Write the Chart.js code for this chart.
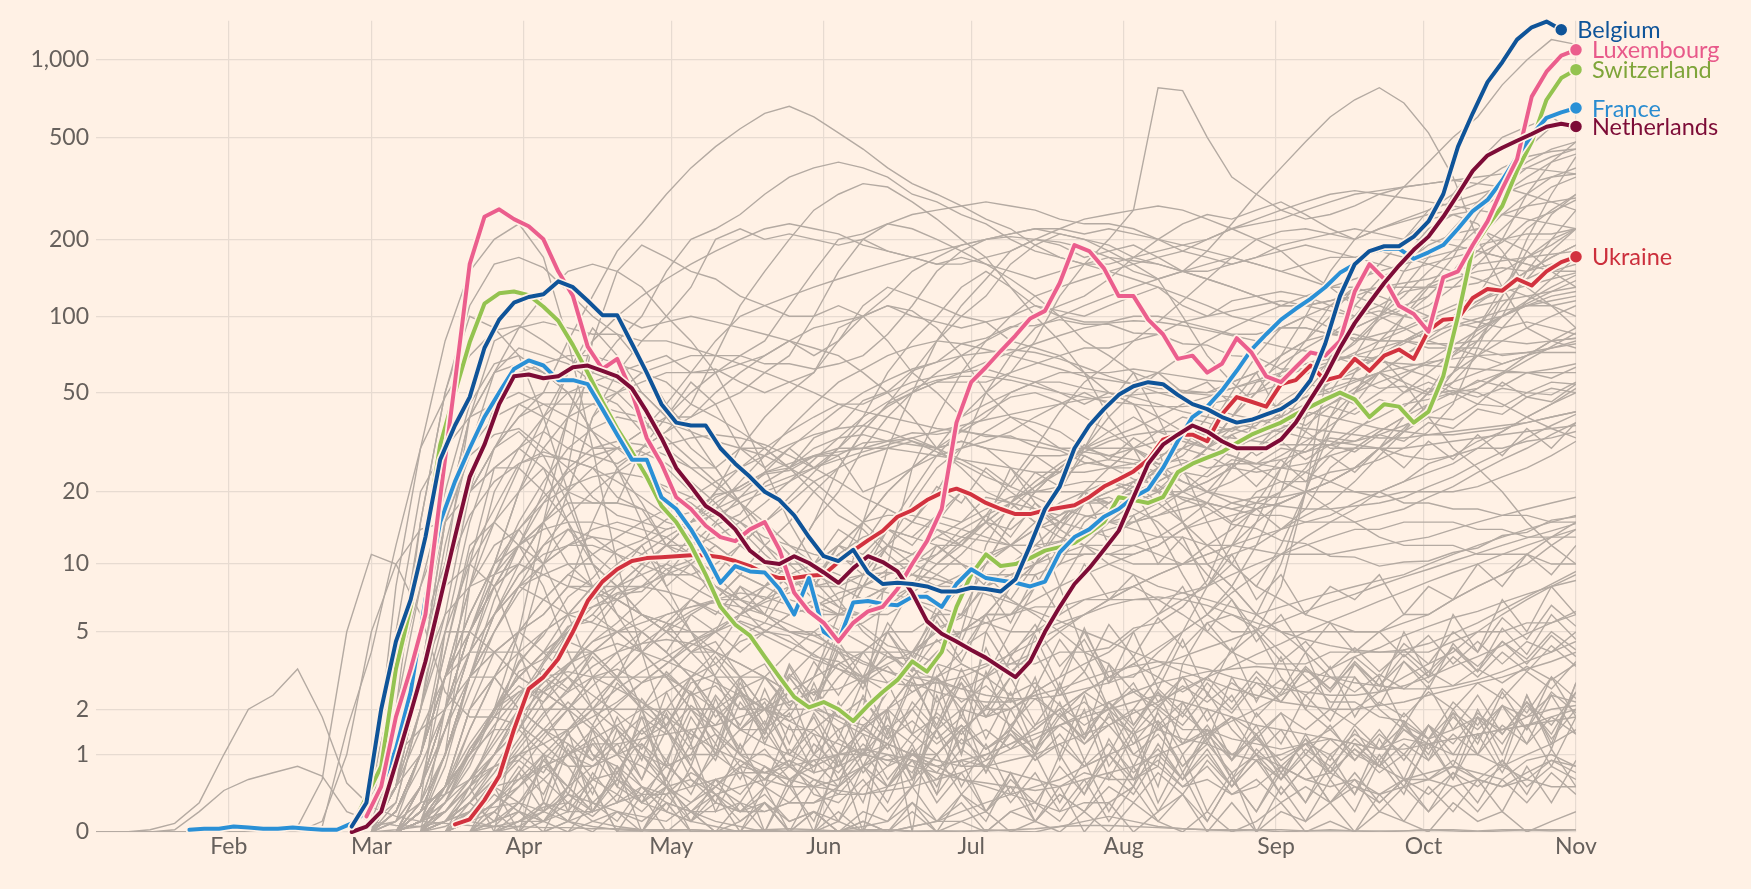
<!DOCTYPE html>
<html>
<head>
<meta charset="utf-8">
<script src="https://cdn.jsdelivr.net/npm/chart.js@4.4.0/dist/chart.umd.min.js"></script>
<style>
  html, body { margin: 0; padding: 0; background: #FFF1E5; }
  #wrap { width: 1751px; height: 889px; position: relative; }
</style>
</head>
<body>
<div id="wrap"><canvas id="chart"></canvas></div>
<script>
// x is day of year 2020 (0 = 1 Jan), y is on a log(1 + v) axis
const X_MIN = 4;
const X_MAX = 305;
const Y_MAX = 1420;
const Y_TICKS = [0, 1, 2, 5, 10, 20, 50, 100, 200, 500, 1000];
const MONTH_DAYS = [31, 60, 91, 121, 152, 182, 213, 244, 274, 305];
const MONTH_LABELS = ['Feb', 'Mar', 'Apr', 'May', 'Jun', 'Jul', 'Aug', 'Sep', 'Oct', 'Nov'];

const BG = '#FFF1E5';
const GRID = '#E7DBD1';
const GRAY = '#B4AAA2';
const TICK_TEXT = '#66605C';

// highlighted countries, one value every 3 days from *_START
const HL_STEP = 3;
const BELGIUM_START = 56;
const BELGIUM = [0.05,0.3,2,4.5,7,13,27,37,48,75, 97,113,119,122,137,130,115,101,101,78,
  60,45,38,37,37,30,26,23,20,18.5, 16,13,10.8,10.3,11.5,9.2,8.2,8.3,8.2,8.0,
  7.6,7.6,7.9,7.8,7.6,8.6,12,17,21,30, 37,43,49,53,55,54,49,45,43,40,
  38,39,41,43,47,56,78,120,160,180, 188,188,205,235,300,460,620,820,980,1200,
  1340,1410,1310];
const LUXEMBOURG_START = 59;
const LUXEMBOURG = [0.15,0.5,1.8,3.3,6,19,55,160,245,262, 240,225,200,150,120,76,62,68,50,33,
  26,19,17,14.5,13,12.5,14,15,11.5,7.5, 6.2,5.5,4.5,5.5,6.2,6.5,7.8,10,12.5,17,
  38,55,63,73,84,98,105,135,190,180, 154,120,120,97,85,68,70,60,65,82,
  72,58,55,63,72,70,80,125,160,140, 110,102,87,142,150,190,235,315,410,720,
  900,1040,1095];
const SWITZERLAND_START = 56;
const SWITZERLAND = [0.05,0.37,0.8,3.3,6.5,13,31,50,79,112, 123,125,121,109,96,77,60,46,36,29,
  23,17.5,15,12,9,6.5,5.4,4.8,3.8,3.0, 2.35,2.05,2.2,2.0,1.7,2.1,2.5,2.9,3.6,3.2,
  4.0,6.5,9,11,9.8,10,10.6,11.4,11.8,12.3, 13.5,15,19,18.5,18,19,24,26,27.5,29,
  31.5,34,36,38,41,44,47,50,47,40, 45,44,38,42,58,100,185,225,270,370,
  480,700,850,917];
const FRANCE_START = 23;
const FRANCE = [0.02,0.03,0.03,0.05,0.04,0.03,0.03,0.04,0.03,0.02, 0.02,0.08,0.2,0.5,1.1,2.5,7,15,22,30,
  40,50,62,67,64,56,56,54,43,34, 27,27,19,17,14,11,8.3,9.8,9.3,9.2,
  7.8,6.0,8.7,5,4.5,6.8,6.9,6.7,6.6,7.2, 7.2,6.5,8.2,9.5,8.7,8.5,8.3,8,8.4,11.2,
  13,14,15.8,17,19,20.5,25,32,40,44, 51,61,74,85,97,107,117,130,148,160,
  178,184,184,168,178,190,220,258,285,340, 420,510,595,625,650];
const NETHERLANDS_START = 56;
const NETHERLANDS = [0,0.05,0.2,0.85,1.9,3.6,7,13,23,31, 45,58,59,57,58,63,64,61,58,52,
  42,33,25,21,17.5,16,14,11.4,10.2,10, 10.8,10.1,9.2,8.3,9.6,10.8,10.2,9.3,7.5,5.6,
  4.9,4.5,4.1,3.75,3.35,3.0,3.6,5,6.5,8.2, 9.6,11.5,13.8,19,26,31,34,37,35,32,
  30,30,30,32.5,38,47,58,75,94,113, 135,158,182,205,245,300,370,425,455,485,
  515,550,565,551];
const UKRAINE_START = 77;
const UKRAINE = [0.07,0.12,0.33,0.65,1.5,2.6,3.0,3.7,5,6.9, 8.4,9.5,10.3,10.6,10.7,10.8,10.9,10.9,10.7,10.3,
  9.8,9.1,8.7,8.7,8.9,9.0,10.2,11.4,12.6,13.8, 15.8,16.8,18.5,19.8,20.6,19.5,18,17,16.2,16.2,
  16.8,17.2,17.6,19,21,22.5,24.2,27,32.5,34, 34,32,41,48,46,44,54,56,64,56,
  58,68,61,70,74,68,88,97,98,118, 128,126,140,132,150,163,171];

// background countries whose outbreaks began before March: every 5 days from 1 Jan
const EARLY_START = 0;
const EARLY_LINES = [
  [0,0,0,0.02,0.08,0.3,1.0,2.0,2.4,3.3,1.8,0.55,
   0.25,0.15,0.1,0.08,0.06,0.05,0.05,0.04,0.04,0.03, 0.03,0.02,0.02,0.02,0.01,0.01,0.01,0.01,0.01,0.01,
   0.02,0.02,0.01,0.01,0.01,0.01,0.02,0.03,0.05,0.06, 0.06,0.05,0.04,0.03,0.02,0.02,0.02,0.02,0.01,0.01,
   0.01,0.01,0.01,0.02,0.02,0.01,0.02,0.02,0.02,0.02],
  [0,0,0,0,0.02,0.2,0.45,0.6,0.7,0.8,0.65,0.2,
   0.1,0.06,0.05,0.2,0.5,0.8,0.9,0.6,0.3,0.1, 0.05,0.02,0.01,0.02,0.01,0.01,0.02,0.03,0.02,0.01,
   0.05,0.1,0.5,2,5,12,18,15,8,4, 2,1,0.8,0.5,0.6,0.4,0.5,0.8,0.6,0.7,
   0.5,0.4,0.6,0.7,0.8,0.6,0.5,0.7,0.9,0.8],
  [0,0,0,0,0,0,0,0,0.01,0.05,0.6,5,
   11,10,6,2.5,1.8,1.8,1.6,1.2,0.8,0.3, 0.2,0.15,0.1,0.3,0.5,0.8,0.7,0.9,0.7,0.8,
   1.0,0.9,1.0,0.8,0.9,0.8,0.7,0.6,0.5,0.7, 0.6,0.6,0.8,3.5,5.5,6,5.2,4,3,2.2,
   2.2,1.8,1.7,1.3,1.5,1.8,1.5,1.8,2,2.1],
  [0,0,0,0,0,0,0,0,0,0,0.1,1,
   5,10,14,15,28,34,36,30,25,19, 16,15,14,15,19,21,24,25,30,33,
   34,32,31,30,32,30,29,28,28,29, 28,27,26,27,25,26,26,27,29,31,
   36,40,45,47,50,52,60,70,80,82],
  [0,0,0,0,0,0,0,0,0,0,0.05,1.5,
   4,12,30,48,70,88,92,80,68,60, 55,50,40,30,25,18,14,11,8.5,6.5,
   5.3,4.3,4.0,3.5,3.2,3.5,3.5,3.5,4,4, 4.2,5.2,5.5,6.5,8.5,15,20,22,22,24,
   25,27,30,35,45,75,120,200,300,420]
];

// all other countries: every 5 days from 1 Mar to 1 Nov
const GRAY_START = 60;
const GRAY_STEP = 5;
const GRAY_LINES = [
  [0.5,3,15,50,110,160,170,155,125,100, 85,65,45,35,25,18,12,9,7,6, 6,7,8,10,12,16,22,30,42,55, 65,80,95,115,140,170,200,215,220,210, 200,220,235,250,260,280,300,350,400,430],
  [0.3,8,30,80,150,200,230,170,80,30, 10,4,1.5,0.6,0.3,0.2,0.4,0.1,0.2,0.1, 0.5,0.8,1,1.5,2,3,5,8,12,18, 22,20,14,9,6,5,5,8,20,70, 110,140,160,190,210,220,200,180,150,130],
  [0.2,1,3,12,30,60,90,120,150,160, 150,130,100,80,60,40,25,15,10,7, 5,4,3,3,3.5,3,4,5,8,12, 15,18,20,24,30,40,55,65,75,85, 100,130,170,220,250,230,180,130,110,90],
  [0.5,3,8,15,20,30,40,50,80,120, 180,230,300,380,460,540,620,660,600,520, 450,380,330,300,270,240,220,190,170,160, 150,140,130,120,110,100,95,90,90,85, 82,80,80,78,78,80,80,78,80,82],
  [0,0,0,0.5,2,3,4,5,6,8, 8,9,10,9,8,7,8,9,10,12, 15,20,25,30,40,50,60,80,120,160, 200,260,780,760,500,350,300,260,240,250, 270,300,320,330,340,350,360,380,370,360],
  [0.5,2,8,20,45,65,70,60,50,35, 25,15,8,5,3,2,2,2.5,3,6, 15,30,50,80,110,140,180,200,190,170, 180,190,170,150,180,230,300,380,480,600, 700,780,680,520,350,200,130,90,80,75],
  [0,0.2,1,3,8,15,25,40,60,80, 100,120,140,160,180,200,220,230,220,210, 190,180,170,160,160,170,180,200,220,240, 250,260,270,260,240,220,200,180,150,130, 110,100,90,80,75,70,65,70,75,80],
  [0,0.5,3,10,20,25,30,35,30,28, 26,30,35,45,70,110,150,200,260,300, 330,320,280,240,200,170,130,110,100,95, 95,100,100,95,90,85,85,90,90,85, 85,80,80,75,75,75,70,72,75,78],
  [0,1,5,15,30,40,45,40,35,30, 30,35,40,40,45,50,60,70,100,150, 200,230,250,260,270,280,270,260,240,230, 230,220,200,180,170,160,170,180,190,180, 170,160,150,160,170,180,170,160,150,160],
  [0,0,0.2,1,3,6,10,15,20,25, 30,35,45,60,80,100,110,120,130,140, 150,160,170,180,190,200,210,220,220,210, 220,210,200,190,180,170,160,150,140,130, 130,120,110,100,95,90,100,110,110,115],
  [0.1,0.3,2,10,40,80,90,95,90,85, 85,80,80,75,70,70,65,65,62,65, 70,85,110,150,180,200,205,200,195,185, 170,165,160,150,140,130,120,110,110,115, 125,130,130,130,130,135,150,170,190,220],
  [0,0,0.2,0.5,1,2,3,4,5,6, 8,10,12,15,20,30,40,50,60,80, 100,120,150,170,190,200,210,220,210,200, 190,170,160,150,140,130,120,110,110,115, 120,130,135,140,150,160,165,170,175,180],
  [0,0,0.1,0.5,1,2,2,2,2,3, 3,3,3,4,5,6,8,10,15,20, 30,40,50,60,70,80,100,120,130,140, 150,160,170,180,200,220,230,240,260,280, 300,310,320,330,340,330,320,300,280,260],
  [0.1,0.5,3,10,20,25,25,20,15,10, 8,6,5,5,5,4,5,6,7,6, 6,8,10,15,20,15,12,10,12,14, 15,18,22,25,30,40,50,70,100,150, 200,250,320,400,500,600,800,1000,1200,1150],
  [0.5,5,20,30,40,45,50,45,40,35, 30,25,20,18,15,12,10,8,6,6, 6,6,7,6,6,8,10,12,15,18, 20,22,25,28,35,50,70,90,100,90, 80,85,90,100,110,120,130,150,170,190],
  [0.3,2,15,50,100,90,70,40,20,10, 8,6,5,4,4,3,3,4,5,6, 7,8,10,12,12,11,12,14,15,18, 18,20,25,30,40,60,80,90,100,110, 120,110,100,110,130,160,200,300,400,480],
  [0,0.5,3,15,40,60,75,70,65,55, 50,40,30,25,25,30,30,25,28,30, 30,32,33,30,32,30,25,20,20,20, 18,20,22,25,30,40,50,60,65,70, 65,70,80,90,100,120,170,220,260,300],
  [0.1,0.5,2,6,20,45,60,65,70,70, 65,60,55,45,40,35,30,25,22,18, 15,12,11,10,10,9,9,10,11,12, 12,12,13,15,18,25,40,60,80,110, 130,160,200,240,250,260,300,330,350,360],
  [0.1,0.5,3,15,40,60,65,60,50,35, 25,18,12,10,8,7,6,5,5,4, 4,4,4,5,5,6,6,7,8,9, 10,11,12,14,15,16,17,18,20,22, 25,30,35,45,60,90,130,170,200,220],
  [0.1,1,5,10,20,30,45,50,50,55, 60,65,70,60,60,65,70,80,90,95, 100,110,105,90,70,50,40,35,30,28, 25,25,20,20,22,25,30,35,40,45, 50,55,60,65,70,80,100,150,200,260],
  [0,0,0.5,1.5,4,6,8,9,10,10, 8,8,9,10,12,10,10,9,8,8, 9,10,10,9,8,8,9,10,12,14, 15,15,16,17,18,17,18,20,25,35, 50,70,100,130,170,250,330,450,550,570],
  [0,0,0.2,0.5,2,4,5,6,8,8, 7,6,5,4,3,3,2,1.5,1.5,1, 1,1.2,1,1,1.5,2,2,2.5,3,5, 3,3,4,5,6,8,12,20,40,70, 90,100,110,120,150,180,220,270,320,350],
  [0,0.2,1,3,6,10,12,15,18,18, 18,17,15,14,12,10,9,9,9,10, 15,20,25,30,35,40,50,55,60,60, 60,62,60,58,56,55,60,70,80,85, 90,100,120,150,180,220,250,270,280,290],
  [0,0,0,0.1,0.5,1.5,4,10,20,40, 50,60,65,70,70,65,60,55,50,45, 42,40,38,36,35,34,33,32,30,30, 30,30,32,34,35,36,38,40,45,55, 60,70,80,90,100,110,115,120,125,130],
  [0,0,0,0,0.1,0.3,0.5,0.8,1,1.3, 1.6,2,2.5,3,3.5,4.5,5,6,6.5,7.5, 8,9,10,11,13,15,18,22,26,30, 33,36,40,45,48,52,56,60,65,68, 70,68,62,58,52,50,45,40,36,33],
  [0,0,0.1,0.5,2,3,2,1.5,1.5,2, 3,4,5,6,7,9,12,15,20,25, 35,45,60,80,100,120,160,190,210,200, 180,160,140,100,70,55,45,40,35,30, 30,30,28,27,28,30,30,32,33,35],
  [0,0.5,5,8,10,8,10,15,20,40, 60,80,100,130,200,220,200,210,200,190, 200,180,170,160,170,160,150,140,150,160, 170,150,140,150,160,170,160,150,160,170, 170,180,170,160,150,140,130,120,110,100],
  [0.5,1,1.5,3,5,8,10,15,25,80, 150,190,170,150,140,120,110,100,100,110, 100,80,60,50,40,45,50,55,50,45, 50,45,30,15,10,8,6,5,4,3, 3,2,1.5,1.2,1,1,0.8,1,1.2,1.5],
  [0,0,0.3,1,3,4,5,6,8,15, 25,30,35,40,50,60,70,80,70,80, 110,130,120,110,100,95,80,75,70,60, 50,45,40,35,30,28,25,22,20,17, 15,13,12,12,12,11,11,11,10,10],
  [0,0,0.3,5,10,15,20,25,20,18, 18,30,40,50,60,70,80,110,150,200, 210,230,220,200,180,160,140,120,100,80, 70,60,55,50,50,55,60,70,80,100, 130,160,200,260,300,330,380,420,440,450],
  [0,0.5,2,5,5,4,5,4,3,2, 1.5,1,0.8,1,1,1.5,2,3,4,5, 8,12,15,20,30,50,70,90,100,110, 120,130,140,150,150,160,170,190,200,210, 220,210,200,200,190,180,170,160,150,150],
  [0,0,0.2,0.5,1,2,3,4,5,6, 5,4,3,2,2,1,1,0.8,0.6,0.5, 0.8,1,0.7,1.5,0.8,1,1.2,1.5,2,2.5, 3,3.5,3,2.5,3,4,6,10,20,40, 60,80,100,120,150,200,250,300,350,380],
  [0,0.5,1.5,2,3,3,2,1.5,1,0.8, 1,1.2,0.8,1,2,3,2,1,1.5,2, 3,2.5,4,5,6,10,15,20,25,30, 40,50,60,70,80,90,100,110,120,130, 140,150,160,170,180,190,200,210,210,220],
  [0,0,0.1,0.2,0.5,1,2,3,5,7, 8,10,12,15,20,25,30,35,40,45, 45,50,55,58,60,62,58,55,55,52, 50,48,45,42,40,38,36,35,33,32, 31,30,30,31,32,33,34,35,36,37],
  [0,0,0.2,0.5,1,2,2.5,2.5,2,2, 2,2,2,2,2,1.5,2,2.5,3,3.5, 4,5,5,6,8,10,15,20,25,30, 35,40,35,32,30,28,26,25,24,22, 20,20,18,18,17,17,16,16,15,15],
  [0,0,0,0.05,0.2,0.5,0.6,0.8,1,1.2, 1.2,1.3,1.4,1.5,1.6,1.8,2,2.2,2.5,2.6, 3,3.5,4,4.5,5,5.5,6,6.5,6.5,7, 7,7,7,7.5,8,9,10,11,12,13, 14,14,15,15,15,14,14,13,13,13],
  [0,0,0.1,1,8,20,30,40,50,50, 45,35,25,20,17,15,12,10,10,12, 15,16,16,15,14,13,12,12,11,11, 11,11,12,14,16,18,19,19,20,20, 20,19,20,20,20,21,23,25,28,32],
  [0,0.1,1,5,15,30,40,45,45,45, 42,40,38,35,32,30,28,25,20,16, 14,11,9,8,8,8,9,9,10,11, 11,10,10,10,10,11,12,14,17,25, 30,35,40,45,50,55,60,60,62,65],
  [0,0.2,1,4,12,15,12,8,4,2, 1,0.8,0.5,0.6,0.4,0.5,0.6,0.5,0.5,0.6, 0.8,1.2,2,3,4,6,8,10,14,18, 19,17,15,12,9,7,5,3,2,1.5, 1,0.8,0.6,0.6,0.5,0.6,0.5,0.6,0.5,0.5],
  [0,0,0.5,3,8,12,14,10,6,3, 1.5,1,0.5,0.2,0.1,0.05,0,0,0,0, 0,0,0.05,0.1,0.2,0.3,0.4,0.3,0.2,0.3, 0.3,0.5,2,3,2.5,1.5,1,0.8,0.6,0.5, 0.6,0.4,0.5,0.6,0.8,0.7,0.6,0.9,1,0.8],
  [0.05,0.1,0.3,0.4,0.6,1,1.5,3,4.5,4, 3,2,1.5,0.8,0.4,0.2,0.2,0.3,0.3,0.4, 0.4,0.5,0.6,1,1.5,2,3,5,6,7, 7.5,8,7,6,5,4,3.5,3.5,3.5,4, 4,4,4,4,4.5,5,5,5.5,5.5,6],
  [0,0,0,0.1,0.4,0.8,1,1.5,1.2,0.9, 1.3,1.8,1.4,2.1,1.6,2.5,2,3.1,2.4,3.5, 2.8,4,3.2,4.6,3.5,3,2.4,2.8,2.1,1.6, 2,1.4,1.7,1.2,1.5,1,1.3,0.9,1.2,1, 1.4,1.1,1.6,1.3,1.9,1.5,2.1,1.8,2.4,2.2],
  [0,0,0,0,0.5,0,2,0.3,1.5,0.2, 0.8,0,0.5,0,0,0.3,0,0.6,0,0.2, 0,0.5,1.2,0.4,2,0.7,1.5,3,1,2.4, 0.8,1.5,0.5,2.2,1.2,3,1.8,2.5,4,2, 3.5,2.5,5,3,6,4,7,5,8,6],
  [0,0,0.5,2,5,8,12,15,10,8, 6,5,4,3,2,2.5,1.5,3,2,5, 8,12,18,25,30,35,40,38,35,30, 28,30,25,20,18,15,17,14,16,18, 22,28,35,45,60,80,110,140,180,220],
  [0,0,0,2,10,25,30,25,15,8, 4,2,0.5,0.2,0,0,0,0,0,0.5, 2,10,25,40,60,80,90,100,110,120, 140,170,200,230,250,240,260,280,250,220, 200,220,240,260,280,300,320,380,420,450],
  [0,0,0,0,0,0.1,0.2,0.1,0.3,0.15, 0.4,0.2,0.5,0.3,0.6,0.4,0.8,0.5,1,0.7, 1.2,0.8,1.4,1,1.6,1.1,1.4,0.9,1.2,0.8, 1,0.6,0.9,0.5,0.8,0.4,0.6,0.3,0.5,0.3, 0.5,0.3,0.6,0.4,0.7,0.5,0.8,0.6,0.9,0.7],
  [0,0,0.1,0.3,0.6,0.8,1,1.2,1.5,1.8, 2.2,2.8,3.5,4.5,5,6,7,8,9,11, 13,14,13,12,10,9,7,6,5,4, 3.5,2.5,2,1.5,1.5,1.3,1.2,1.1,1.2,1.3, 1.2,1.1,1.3,1.2,1.3,1.4,1.5,1.6,1.8,2],
  [0,0.2,1,3,6,10,20,35,60,90, 70,50,40,55,45,30,25,30,25,28, 20,22,25,28,30,32,35,40,45,50, 45,55,60,50,55,45,60,40,55,50, 45,60,50,55,50,45,55,48,52,50],
  [0,0,0.1,0.5,1,2,5,15,40,80, 100,90,95,100,95,90,85,80,75,70, 60,50,40,30,25,20,18,15,13,12, 11,12,11,10,11,12,15,18,20,22, 25,30,40,50,60,70,80,90,100,110],
  [0,0,0.2,1,3,4,4,3,2,1, 0.5,0.3,0.2,0.1,0.3,0.2,0.5,0.8,0.5,1, 1.5,2,2.5,3,2,1.8,2,2.5,3,3.5, 4,5,6,7,8,10,15,25,35,50, 70,100,150,200,300,400,500,550,600,520],
  [0,0,0.5,2,5,10,20,30,40,45, 50,55,60,60,62,55,50,55,60,90, 100,110,100,95,90,95,100,110,105,100, 110,120,130,110,100,115,120,125,120,110, 100,110,125,130,140,150,155,150,160,165],
  [0,0,0.2,0.5,1,2,3,4,6,8, 10,12,14,15,16,18,20,22,25,30, 40,60,80,100,130,150,130,100,80,60, 40,30,20,15,10,8,6,5,5,5, 5,5,6,6,7,8,9,10,12,14],
  [0,0.5,1,3,5,8,12,20,40,60, 80,100,150,200,220,250,300,350,380,400, 380,350,300,280,250,230,200,180,170,160, 160,170,180,190,200,220,240,260,280,300, 310,300,290,280,270,260,250,240,230,220],
  [0,0,0,0.2,0.5,1,2,3,2.5,4, 3,5,4,6,5,8,6,10,8,12, 10,14,12,16,20,15,25,18,14,20, 12,16,10,13,8,11,7,9,6,8, 7,9,6,8,7,10,8,11,9,12],
  [0,0,0,0,0,0.3,0.8,0.4,1.2,0.6, 1.8,0.9,2.5,1.2,3,1.5,2.2,1,1.8,0.8, 1.4,0.6,1.1,0.5,1.5,0.7,2,1,2.8,1.3, 3.5,1.6,2.5,1.2,2,0.9,1.6,0.7,1.3,0.6, 1.2,0.8,1.6,1,2,1.2,2.5,1.5,3,1.8],
  [0,0,0.1,0.5,1,1.5,1.5,1,0.8,0.8, 1,1.5,2,3,4,6,8,10,15,25, 35,45,50,55,55,55,60,65,70,75, 75,80,85,95,100,105,110,115,110,105, 100,105,100,95,100,95,90,95,90,85],
  [0,0.2,1,3,4,4,3,2.5,2,1, 0.8,0.5,0.3,0.2,0.2,0.3,0.2,0.3,0.3,0.5, 1,2,3,4,5,6,6,8,10,15, 18,20,25,30,28,25,24,25,26,28, 30,35,40,50,70,90,120,180,250,300],
  [0,0,0.1,0.5,1,2,3,2.5,2,1.5, 1,0.5,0.2,0.1,0.05,0,0,0,0,0.1, 0,0,0.05,0.1,0.1,0,0.2,0.3,0.1,0.5, 1,2,3,5,8,12,18,25,30,40, 50,60,70,80,90,95,100,110,120,125],
  [0,0,0.1,0.3,1,2,3,4,4,4, 5,5,4,3,2,1.5,1.5,2,2,3, 4,5,8,12,10,8,7,10,15,20, 25,30,35,40,38,35,40,45,48,50, 55,60,55,50,55,60,65,70,80,90],
  [0,0,0,0,0,0.2,0,0.3,0.1,0.5, 0,0.4,0,0.2,0,0.1,0.3,0,0.2,0, 0.1,0,0.3,0,0.1,0.2,0,0.1,0,0.2, 0,0.3,0.1,0,0.2,0,0.1,0.3,0,0.1, 0,0.2,0.1,0,0.3,0.1,0.2,0,0.1,0.2],
  [0,0.02,0.05,0.1,0.2,0.25,0.3,0.2,0.1,0.05, 0.02,0.01,0,0,0.01,0,0.02,0,0.01,0, 0.01,0.02,0,0.01,0,0.02,0.01,0,0.05,0.1, 0.15,0.1,0.05,0.03,0.02,0.01,0.02,0,0.01,0.02, 0.01,0,0.01,0.02,0.01,0,0.01,0.02,0.01,0.02],
  [0,0,0,0.1,0.3,0.6,1,0.7,1.4,0.9, 1.6,1.1,2,1.3,2.4,1.6,3,2,3.6,2.4, 4,2.8,3.4,2.2,2.8,1.8,2.3,1.5,2,1.2, 1.6,1,1.4,0.8,1.2,0.7,1,0.6,1.1,0.8, 1.3,0.9,1.5,1.1,1.8,1.3,2.1,1.5,2.5,1.9],
  [0,0,0,0,0.2,0.5,0.3,0.8,0.5,1.2, 0.7,1.5,0.9,2,1.2,2.8,1.6,3.5,2.2,4.5, 3,5.5,3.8,6.5,4.5,8,5.5,9,6,10, 7,9,6,8,5,7,4.5,6,4,5.5, 4,5,3.8,4.8,3.5,4.5,3.5,4.5,4,5],
  [0,0,0.1,0.4,1.5,3,5,7,9,8, 7,6,5.5,5,4,3.5,3,2.5,2,1.8, 1.5,1.2,1,0.8,0.6,0.5,0.4,0.5,0.6,0.8, 1,1.2,1.5,1.3,1.2,1,0.9,1,1.2,1.5, 2,2.5,3,3.5,4,5,6,7,8,9],
  [0,0,0,0,0,0,0.1,0.3,0.2,0.6, 0.4,1,0.6,1.5,0.9,2.2,1.4,3,2,4, 2.8,5,3.5,6,4.2,5,3.2,4,2.4,3.2, 2,2.8,1.6,2.2,1.3,1.8,1,1.5,0.8,1.3, 0.9,1.4,1,1.6,1.2,1.9,1.4,2.2,1.6,2.5],
  [0,0,0.2,1,3,5,8,10,12,14, 15,14,13,11,9,7,6,5,4.5,4, 3.5,3.2,3,2.8,2.6,3,3.5,4,5,6, 7,8,9,10,11,12,13,14,15,16, 18,20,22,24,26,30,35,40,45,50],
  [0,0,0,0,0.1,0.05,0.3,0.1,0.5,0.2, 0.7,0.3,0.9,0.4,1.2,0.6,1.5,0.8,1.9,1, 2.4,1.3,2.8,1.6,3.3,1.8,3,1.6,2.6,1.4, 2.2,1.2,1.9,1,1.6,0.9,1.4,0.8,1.2,0.7, 1.1,0.7,1,0.6,0.9,0.6,0.9,0.5,0.8,0.6],
  [0,0,0,0.3,0.8,2,3.5,5,6,5.5, 5,4,3,2,1.5,1,0.8,0.6,0.8,1, 1.5,2.5,4,6,8,10,12,15,18,20, 22,20,18,15,12,10,8,7,6,5.5, 5,5,5.5,6,7,8,9,11,13,15],
  [0,0,0,0,0,0.05,0.1,0.25,0.3,0.6, 0.7,1.3,1.6,2.8,3.1,4.8,5.5,8,8.5,12, 11,14,13,16,15,19,18,24,21,28, 25,30,27,33,30,36,34,40,37,44, 41,47,44,52,49,56,53,60,57,63],
  [0,0.2,1,4,11,17,26,29,27,25, 19,17,12,11,8,6.5,5,4.8,3.8,3.6, 3,3.8,3.7,5.2,5.8,8.4,8.6,11.5,12.4,15.8, 16.5,20,20.4,25,27,34,37,46,53,67, 78,97,107,133,146,174,195,235,255,285],
  [0,0.5,3,6,8,9,10,9,8,7.5, 7,6,5.5,4,4.5,3,3.5,2.2,2.5,1.8, 1.6,2,1.4,1.8,1.2,1.5,1.1,1.6,2,2.5, 3,3.5,4.2,5,6,7.5,9,11,13,15, 17,20,22,26,28,32,35,40,45,52],
  [0,0,0.3,1.5,4,9,15,22,30,36, 40,38,33,27,22,18,14,11,9,8, 7,8,9,11,14,16,18,17,15,14, 13,15,17,20,24,30,35,42,48,55, 62,70,78,88,100,115,130,140,155,170],
  [0,0,0.1,0.8,3,6,9,12,14,13, 11,9,7,5,3.5,2.5,2,1.8,3,5, 9,14,20,28,36,42,48,50,46,40, 35,30,26,22,20,18,17,18,20,22, 25,30,36,45,55,70,90,115,140,170],
  [0,0.2,0.8,2,4,6,8,7,6,6.5, 7,8,10,13,17,22,28,36,45,55, 62,70,76,80,78,74,70,66,62,58, 56,54,52,51,50,52,55,58,62,66, 70,75,80,86,92,98,105,110,115,120],
  [0,0,0,0.2,0.5,1,1.8,2.6,3.4,4.5, 5.5,7,9,12,15,19,24,30,36,43, 50,56,62,66,70,72,74,72,68,63, 58,54,50,47,44,41,39,37,36,35, 34,33,33,34,35,36,37,38,40,42],
  [0,0,0,0,0.1,0.3,0.6,1,1.5,2.2, 3,4,5.5,7,9,12,15,18,22,25, 28,30,32,30,27,24,20,17,14,12, 10,9,8,7.5,7,6.5,6,6.5,7,7.5, 8,8.5,9,10,11,12,13,14,15,16],
  [0,0,0.1,0.2,0.5,1,1.5,2.5,3,4, 5,6,5,7,6,8,7,9,8,11, 9,12,10,14,12,16,13,18,15,20, 17,22,18,24,20,26,21,27,22,28, 24,30,25,32,27,34,28,36,30,38],
  [0,0,0.5,2,5,8,4,2,1,0.5, 0,0,0.3,0,0,0,0.5,0,0,1, 0,2,0,3,1,5,8,14,20,30, 45,60,40,25,15,10,8,12,20,35, 50,70,55,40,30,25,20,15,12,10],
  [0,0,0,0.1,0.3,0.8,1.5,2.5,3.5,4.5, 5,5.5,6,6.5,7,7,6.5,6,6.5,7, 8,9.5,11,13,15,17,19,20,21,22, 22,21,20,19,18,17,16,16,15,15, 15,16,17,19,21,24,27,30,34,38],
  [0,0.3,2,8,20,30,35,28,18,10, 6,4,3,2.5,2,1.5,1.2,1,0.8,1, 1.5,2,3,4,5,6,8,10,12,14, 15,16,18,20,22,25,30,38,50,65, 80,100,130,170,220,280,340,400,450,480],
  [0,0,0.2,1,3,7,12,18,25,30, 32,31,28,25,21,18,15,12,10,9, 8,7.5,7,6.5,6,5.5,5,5,5.5,6, 7,8,9,10,12,14,17,20,24,29, 35,42,50,60,72,85,100,115,130,145],
  [0,0,0,0,0.2,0.5,1,1.5,2.2,1.6, 2.8,2,3.2,2.4,3.8,2.6,3,2.1,2.6,1.8, 2.3,1.5,2,1.3,1.8,1.1,1.5,0.9,1.4,0.8, 1.2,0.7,1.1,0.6,1,0.5,0.9,0.6,1,0.7, 1.1,0.8,1.2,0.9,1.4,1,1.6,1.2,1.8,1.4],
  [0,0,0,0,0,0,0.05,0.2,0.5,0.8, 1.2,0.6,1.5,0.9,2,1.1,1.7,0.8,1.4,0.6, 1.1,0.5,0.9,0.3,0.7,0.2,0.5,0.1,0.4,0.2, 0.5,0.3,0.7,0.4,0.9,0.5,1.1,0.7,1.3,0.9, 1.6,1.1,1.9,1.3,2.2,1.6,2.6,1.9,3,2.3],
  [0,0,0,0.2,0.6,1.2,2,2.8,3.5,4, 4.4,4,3.6,3.2,2.8,2.4,2,1.7,1.4,1.2, 1,0.9,0.8,0.7,0.6,0.55,0.5,0.45,0.5,0.6, 0.7,0.8,1,1.2,1.4,1.7,2,2.4,2.8,3.3, 3.8,4.2,4.8,5.3,5.8,6.2,6.8,7.4,8,8.5],
  [0,0,0,0,0,0.5,0,1,0.2,1.5, 0.5,2,0.8,2.5,1,3,1.2,2.6,1,2.2, 0.8,1.8,0.6,1.5,0.5,1.2,0.4,1,0.3,0.9, 0.2,0.8,0.2,0.7,0.1,0.6,0.2,0.7,0.3,0.8, 0.4,1,0.5,1.2,0.6,1.4,0.7,1.6,0.8,1.8],
  [0,0,0,0,0.1,0.3,0.7,1.3,2,3, 4,5,6,6.5,6.8,6.5,6,5.4,4.8,4.2, 3.6,3.2,2.8,2.5,2.3,2.2,2.2,2.4,2.6,2.9, 3.2,3.4,3.6,3.5,3.3,3,2.8,2.6,2.5,2.4, 2.4,2.5,2.7,3,3.4,3.8,4.3,4.9,5.5,6.2],
  [0,0,0,0,0,0,0,0.1,0,0.3, 0.1,0.5,0.2,0.8,0.3,1.2,0.5,1.6,0.7,2.2, 1,2.8,1.4,3.5,1.8,4.2,2.2,4.8,2.6,5.2, 2.8,5,2.6,4.6,2.4,4.2,2.2,3.8,2,3.4, 1.8,3,1.6,2.7,1.5,2.4,1.4,2.2,1.3,2],
  [0,0,0.1,0.4,1,1.8,2.5,3,3.2,3, 2.6,2.2,1.8,1.4,1.1,0.9,0.7,0.6,0.5,0.45, 0.4,0.45,0.5,0.6,0.7,0.9,1.1,1.3,1.6,1.9, 2.2,2.5,2.8,3,3.2,3.3,3.4,3.3,3.2,3, 2.8,2.7,2.6,2.6,2.7,2.9,3.2,3.6,4,4.5],
  [0,0,0,0,0,0,0.1,0.2,0.4,0.3, 0.6,0.4,0.8,0.5,1,0.7,0.5,0.3,0.6,0.4, 0.8,0.5,1,0.7,1.3,0.9,1.6,1.1,1.9,1.3, 2.2,1.5,2.5,1.8,2.8,2,3,2.2,3.3,2.5, 3.6,2.7,3.9,3,4.2,3.2,4.5,3.5,4.8,3.8],
  [0,0,0,0,0.1,0.2,0.5,0.9,1.4,2, 2.6,3.2,3.8,4.5,5.2,6,6.8,7.5,8,8.5, 9,9.2,9,8.6,8,7.4,6.8,6.2,5.6,5, 4.5,4,3.6,3.2,2.9,2.6,2.4,2.2,2.1,2, 2,2.1,2.2,2.4,2.6,2.8,3,3.3,3.6,4],
  [0,0,0,0,0,0,0,0,0.1,0.2, 0.3,0.5,0.4,0.7,0.5,0.9,0.6,1.1,0.8,1.3, 1,1.6,1.2,1.9,1.4,2.1,1.6,2.3,1.8,2.5, 2,2.6,2.1,2.7,2.2,2.8,2.3,2.9,2.4,3, 2.5,3.1,2.6,3.2,2.7,3.3,2.8,3.4,2.9,3.5],
  [0,0,0,0.1,0.3,0.6,1.1,1.8,2.6,3.4, 4,4.4,4.6,4.4,4,3.5,3,2.5,2.1,1.7, 1.4,1.2,1,0.9,0.8,0.8,0.9,1,1.2,1.4, 1.6,1.9,2.2,2.6,3,3.4,3.9,4.4,5,5.6, 6.2,6.9,7.6,8.4,9.2,10,11,12,13,14],
  [0,0,0,0,0,0.1,0.2,0.1,0.4,0.2, 0.6,0.3,0.5,0.2,0.4,0.1,0.3,0.1,0.2,0, 0.2,0.1,0.3,0.1,0.4,0.2,0.6,0.3,0.8,0.4, 1,0.5,1.2,0.6,1.1,0.5,0.9,0.4,0.8,0.3, 0.7,0.3,0.6,0.2,0.5,0.2,0.6,0.3,0.7,0.4],
  [0,0,0,0.1,0.4,1,2,3.5,5,6.5, 7.5,8,7.6,7,6.2,5.5,4.8,4.2,3.7,3.3, 3,2.8,2.7,2.8,3,3.4,3.9,4.5,5.2,6, 6.6,7,7.2,7,6.6,6,5.5,5,4.6,4.3, 4.1,4,4.1,4.4,4.9,5.5,6.3,7.2,8.2,9.3],
  [0,0,0,0,0,0,0,0,0,0.1, 0.2,0.1,0.3,0.2,0.5,0.3,0.8,0.5,1.2,0.8, 1.6,1.1,2.2,1.5,3,2,3.8,2.6,4.6,3.2, 5.4,3.8,5.8,4.2,5.5,4,5,3.6,4.5,3.3, 4.2,3.2,4.1,3.2,4.2,3.4,4.5,3.7,5,4.1],
  [0,0.1,0.5,2,5,9,12,14,15,15, 14,13,12,12,13,15,18,22,27,33, 40,46,52,56,58,58,56,53,50,48, 46,45,44,44,45,47,50,54,59,65, 72,80,88,97,106,115,124,132,140,148],
  [0,0,0.2,1,3,6,9,11,12,12, 11,10,9,9,10,12,15,19,24,30, 37,44,50,55,60,66,72,78,84,90, 94,96,95,92,88,84,80,76,73,70, 68,66,65,64,63,62,61,60,60,60],
  [0,0.5,3,9,16,22,26,28,27,25, 22,19,16,13,11,9,8,7,6.5,6, 6,6.5,7,8,9,10.5,12,14,16,18, 20,22,24,26,28,30,33,36,40,45, 52,60,70,82,96,112,130,150,170,190],
  [0,0,0,0.3,1.1,1.9,3.6,4.8,7.2,8.7, 11.5,12.6,15.4,16.5,19.5,20.3,23.6,24.4,27.8,28.2, 31.5,32.2,34.6,34.1,35.5,33.4,33.6,30.5,29.4,26.3, 25.4,22.5,21.3,18.6,17.2,14.7,14.1,12.6,12.2,10.8, 10.7,9.8,10.2,10.3,11.2,11.7,13.2,13.6,15.3,15.8],
  [0,0,0.1,0.4,1.1,1.8,3.2,3.7,5.3,5.6, 7.4,7.6,9.5,10.4,14.6,16.2,21.8,25,33,36.5, 46.5,50.5,61,66,78,82,91,92,97,93, 93,86,85,78,77,70,69,62,62,56, 57,52,53,49,51,48,52,50,55,54],
  [0,0,0,0,0,0.2,0.5,1,0.4,1.3, 0.6,1.8,0.5,1.2,0.2,0.8,0,0.5,0.1,0.9, 0.3,1.5,0.6,2.4,1,3.2,1.5,2.6,0.9,2, 0.6,1.4,0.3,1,0.2,0.7,0,0.5,0.1,0.6, 0.2,0.9,0.4,1.3,0.6,1.8,0.8,2.4,1.1,2.8],
  [0,0,0,0.3,0.9,1.6,2.4,3.3,2.6,3.8, 2.9,2.2,1.6,2.5,1.4,1,0.6,0.9,0.4,0.3, 0.6,0.2,0.5,0.1,0.3,0,0.2,0.1,0.4,0.2, 0.7,0.4,1,0.6,1.4,0.9,1.9,1.2,2.4,1.7, 3,2.1,3.6,2.6,4.4,3.2,5.2,3.9,6,4.6],
  [0,0,0,0,0.1,0.4,0.2,0.9,0.5,1.6, 1,2.3,1.5,3,1.8,2.4,1.3,1.9,1,1.5, 0.7,1.2,0.5,1,0.4,0.8,0.3,0.7,0.2,0.6, 0.1,0.5,0.1,0.4,0,0.3,0,0.2,0.1,0.3, 0,0.4,0.1,0.5,0.2,0.6,0.2,0.8,0.3,0.9],
  [0,0,0,0,0,0,0,0.3,0.1,0.7, 0.3,1.2,0.6,1.8,1,2.6,1.4,3.4,2,4.2, 2.6,5,3.2,5.6,3.6,6,3.8,5.4,3.4,4.6, 2.8,3.8,2.2,3,1.7,2.4,1.3,1.9,1,1.6, 0.9,1.5,0.9,1.6,1,1.8,1.2,2.1,1.4,2.5],
  [0,0,0,0,0.2,0.6,1.2,1.9,2.5,3, 3.3,2.8,3.1,2.4,2.7,2,2.3,1.7,2,1.5, 1.8,1.3,1.7,1.2,1.6,1.1,1.5,1.1,1.6,1.2, 1.8,1.4,2.1,1.6,2.4,1.9,2.8,2.2,3.3,2.6, 3.8,3,4.4,3.5,5,4,5.8,4.6,6.6,5.3],
  [0,0,0,0,0,0,0,0,0.1,0, 0.2,0,0.4,0.1,0.6,0.2,0.3,0,0.5,0.1, 0.8,0.3,1.1,0.4,0.9,0.2,0.7,0.1,0.5,0, 0.3,0,0.2,0.4,0.1,0.6,0.2,0.8,0.3,1, 0.4,1.3,0.6,1.6,0.8,2,1,2.4,1.2,2.8],
  [0,0,0.1,0.5,1.2,2,2.7,2.2,3,2.4, 1.9,1.4,1.8,1.1,1.4,0.8,1.1,0.6,0.9,0.5, 0.8,0.5,0.9,0.6,1.1,0.8,1.4,1,1.8,1.3, 2.2,1.6,2.6,1.9,3,2.2,3.2,2.4,3.4,2.6, 3.5,2.7,3.6,2.8,3.8,3,4,3.2,4.3,3.4],
  [0,0,0,0,0,0.1,0.3,0.6,1,1.5, 2.1,2.8,3.5,4.3,5,5.6,5.1,4.5,3.9,3.3, 2.8,3.4,2.5,3,2.2,2.7,2,2.4,1.8,2.2, 1.6,2,1.5,1.9,1.4,1.8,1.4,1.9,1.5,2, 1.6,2.2,1.8,2.5,2,2.8,2.3,3.2,2.6,3.6],
  [0,0,0,0,0,0,0.2,0,0.5,0.2, 0.8,0.3,0.6,0.1,0.4,0,0.3,0,0.2,0, 0.1,0,0.2,0,0.4,0.1,0.7,0.2,1,0.4, 1.3,0.6,1.6,0.8,1.3,0.6,1,0.4,0.8,0.3, 0.6,0.2,0.5,0.2,0.7,0.3,0.9,0.4,1.1,0.5],
  [0,0,0,0.1,0.2,0.5,0.9,1.4,2,2.7, 3.5,4.4,5.3,6.2,7,7.5,7.2,6.6,5.9,5.1, 4.4,3.8,3.3,2.9,2.6,2.4,2.3,2.3,2.4,2.6, 2.8,3.1,3.4,3.8,4.2,4.6,5.1,5.6,6.2,6.8, 7.4,8.1,8.8,9.5,10.3,11.1,12,12.9,13.8,14.8],
  [0,0,0,0,0.3,0.1,0.7,0.2,1.1,0.4, 1.5,0.6,1.9,0.8,2.3,1,2.6,1.2,2.8,1.3, 2.9,1.4,3,1.5,2.8,1.3,2.5,1.1,2.2,0.9, 1.9,0.8,1.7,0.7,1.5,0.6,1.4,0.6,1.4,0.7, 1.5,0.8,1.7,0.9,1.9,1,2.1,1.2,2.4,1.4],
  [0,0,0,0,0,0,0.1,0.1,0.2,0.2, 0.3,0.4,0.4,0.5,0.6,0.7,0.7,0.8,0.9,1, 1.1,1,0.9,0.8,0.9,1,1.2,1.4,1.6,1.8, 2,2.2,2.4,2.2,2,1.8,1.6,1.5,1.4,1.3, 1.2,1.1,1.1,1.2,1.3,1.4,1.5,1.6,1.7,1.8],
  [0,0,0.3,1.5,4,8,12,10,14,11, 9,12,8,10,7,9,8,11,10,14, 12,17,15,21,18,25,21,28,24,31, 27,33,29,35,30,34,28,32,27,31, 29,34,32,38,36,43,41,48,46,54],
  [0,0.2,1,3,6,10,14,18,21,23, 24,23,21,19,17,15,13,12,11,10.5, 10,12,11,13,12,15,14,17,16,19, 18,21,20,24,23,27,26,30,29,33, 32,36,35,40,39,45,44,50,49,55],
  [0,0,0,0.5,1.5,3,5,7,9,11, 13,15,17,19,22,25,28,31,34,36, 37,35,32,29,26,23,21,19,17,16, 15,14,13,13,12,12,11.5,11,11,11, 11.5,12,12.5,13,14,15,16,17,18,19],
  [0,0,0.2,1,2.5,5,7.5,10,12,13, 12.5,11,9.5,8,7,6,5.5,5,4.8,5, 5.5,6.5,8,10,12.5,15,18,21,24,26, 27,26,24,22,20,19,18,17.5,17,17, 17.5,18,19,21,23,26,29,33,37,41],
  [0,0.1,0.5,1.5,3,5,8,12,16,20, 24,28,31,33,34,33,31,28,25,22, 19,17,15,14,13,12.5,12,12,12.5,13, 14,15,16,18,20,22,25,28,32,37, 43,50,58,67,77,88,100,112,125,138],
  [0,0,0,0.1,0.3,0.7,1.3,2.2,3.4,5, 7,9.5,12,15,18,21,24,26,28,29, 30,30,29,28,27,26,25,24,24,24, 25,26,28,30,33,36,40,44,48,52, 56,60,63,66,68,70,71,72,72,72],
  [0,0,0.5,2,5,9,14,19,24,28, 30,29,26,22,18,14,11,9,7.5,6.5, 6,6.5,7.5,9,11,14,17,21,25,29, 32,34,35,35,34,33,32,31,31,31, 32,34,37,41,46,52,59,67,76,86],
  [0,0,0,0.2,0.6,1.3,2.3,3.6,5.2,7, 9,11,13,15,17,19,21,23,25,27, 29,31,33,35,37,39,41,43,45,47, 48,49,50,50,49,48,46,44,42,40, 38,36,35,34,34,35,36,38,40,42]
];

// bottom of the stack first
const HIGHLIGHTS = [
  { name: 'Ukraine', start: UKRAINE_START, values: UKRAINE, color: '#D2323F', text: '#CC2F3C' },
  { name: 'Switzerland', start: SWITZERLAND_START, values: SWITZERLAND, color: '#94C350', text: '#7FA53A' },
  { name: 'France', start: FRANCE_START, values: FRANCE, color: '#2A90D6', text: '#2A8CD0' },
  { name: 'Luxembourg', start: LUXEMBOURG_START, values: LUXEMBOURG, color: '#EB5E8D', text: '#E8598A' },
  { name: 'Netherlands', start: NETHERLANDS_START, values: NETHERLANDS, color: '#7D0C37', text: '#7D0C37' },
  { name: 'Belgium', start: BELGIUM_START, values: BELGIUM, color: '#0F5499', text: '#0F5499' },
];

const tf = v => Math.log10(1 + Math.max(v, 0));

class Log1pScale extends Chart.Scale {
  static id = 'log1p';
  static defaults = {};
  determineDataLimits() {
    this.min = this.options.min ?? 0;
    this.max = this.options.max ?? 1000;
  }
  buildTicks() {
    return Y_TICKS.map(v => ({ value: v }));
  }
  getLabelForValue(v) {
    return String(v);
  }
  configure() {
    super.configure();
    this._tStart = tf(this.min);
    this._tEnd = tf(this.max);
  }
  getPixelForValue(v) {
    return this.getPixelForDecimal((tf(v) - this._tStart) / (this._tEnd - this._tStart));
  }
  getValueForPixel(p) {
    const d = this.getDecimalForPixel(p);
    return Math.pow(10, this._tStart + d * (this._tEnd - this._tStart)) - 1;
  }
}
Chart.register(Log1pScale);

const endLabels = {
  id: 'endLabels',
  afterDatasetsDraw(chart) {
    const { ctx } = chart;
    chart.data.datasets.forEach((ds, i) => {
      if (!ds.endLabel) return;
      const meta = chart.getDatasetMeta(i);
      const pt = meta.data[meta.data.length - 1];
      ctx.save();
      ctx.beginPath();
      ctx.arc(pt.x, pt.y, 6.5, 0, Math.PI * 2);
      ctx.fillStyle = ds.borderColor;
      ctx.fill();
      ctx.lineWidth = 1.5;
      ctx.strokeStyle = BG;
      ctx.stroke();
      ctx.font = '23.5px Lato, sans-serif';
      ctx.textBaseline = 'middle';
      ctx.fillStyle = ds.labelColor;
      ctx.fillText(ds.endLabel, pt.x + 16, pt.y + 1);
      ctx.restore();
    });
  }
};

function toPoints(start, step, values) {
  return values.map((v, i) => ({ x: start + i * step, y: v }));
}

const datasets = [];
const nTop = HIGHLIGHTS.length;
HIGHLIGHTS.forEach((h, k) => {
  const pts = toPoints(h.start, HL_STEP, h.values);
  const lvl = (nTop - 1 - k) * 2;
  datasets.push({
    data: pts, borderColor: BG, borderWidth: 7.5, order: lvl + 1, clip: 8,
    borderJoinStyle: 'round', borderCapStyle: 'round'
  });
  datasets.push({
    data: pts, borderColor: h.color, borderWidth: 4, order: lvl, clip: 8,
    borderJoinStyle: 'round', borderCapStyle: 'round',
    endLabel: h.name, labelColor: h.text
  });
});
EARLY_LINES.forEach(vals => {
  datasets.push({ data: toPoints(EARLY_START, GRAY_STEP, vals), borderColor: GRAY, borderWidth: 1.4, order: 50 });
});
GRAY_LINES.forEach(vals => {
  datasets.push({ data: toPoints(GRAY_START, GRAY_STEP, vals), borderColor: GRAY, borderWidth: 1.4, order: 50 });
});

Chart.defaults.font.family = "Lato, 'Open Sans', sans-serif";

new Chart(document.getElementById('chart'), {
  type: 'line',
  data: { datasets },
  plugins: [endLabels],
  options: {
    responsive: true,
    maintainAspectRatio: false,
    animation: false,
    events: [],
    layout: { padding: { top: 18, right: 175, left: 0, bottom: 0 } },
    elements: { point: { radius: 0 }, line: { tension: 0, fill: false } },
    plugins: { legend: { display: false }, tooltip: { enabled: false } },
    scales: {
      x: {
        type: 'linear',
        min: X_MIN,
        max: X_MAX,
        afterBuildTicks: s => { s.ticks = MONTH_DAYS.map(v => ({ value: v })); },
        afterFit: s => { s.height = 57; },
        ticks: {
          autoSkip: false, maxRotation: 0, padding: 1, color: TICK_TEXT,
          font: { size: 23 },
          callback: (v, i) => MONTH_LABELS[i]
        },
        grid: { color: GRID, lineWidth: 1.2, drawTicks: false },
        border: { display: false }
      },
      y: {
        type: 'log1p',
        min: 0,
        max: Y_MAX,
        afterFit: s => { s.width = 96; },
        ticks: {
          padding: 7, color: TICK_TEXT, font: { size: 23 },
          callback: v => v.toLocaleString('en-US')
        },
        grid: { color: GRID, lineWidth: 1.2, drawTicks: false },
        border: { display: false }
      }
    }
  }
});
</script>
</body>
</html>
